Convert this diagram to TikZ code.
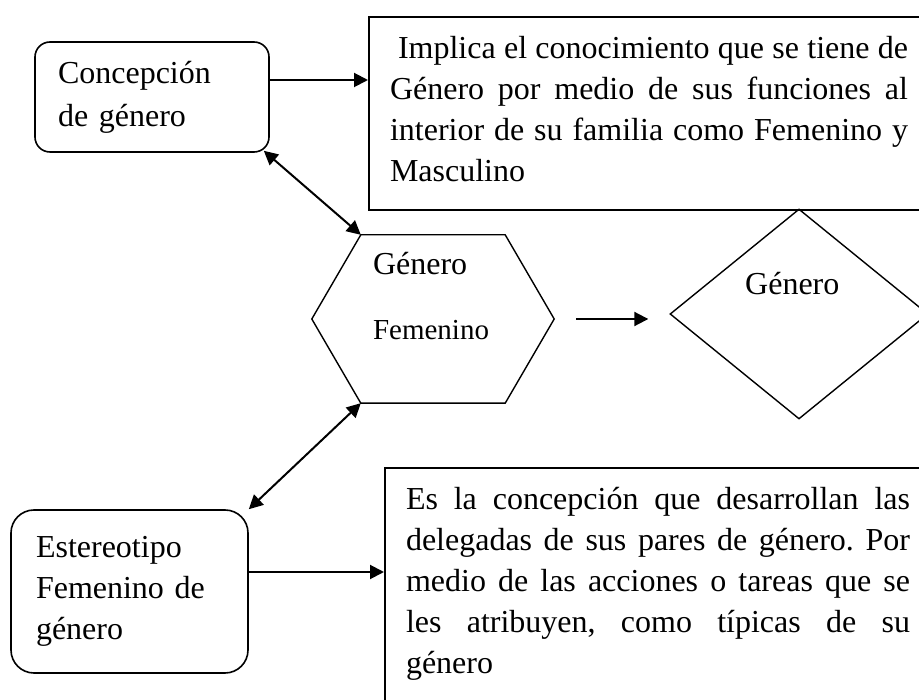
\documentclass[tikz,border=0pt]{standalone}
\usepackage{fontspec}
\setmainfont{Liberation Serif}
\usetikzlibrary{shapes.geometric,arrows.meta,positioning,calc}
\frenchspacing

\begin{document}
\begin{tikzpicture}[
  x=1pt, y=-1pt,
  every node/.style={font=\fontsize{32}{41}\selectfont},
  rbox/.style={rectangle, draw, line width=1.6pt, align=left, inner sep=0pt},
  tbox/.style={rectangle, draw, line width=2pt, align=justify, anchor=north west, inner xsep=21pt, inner ysep=19pt},
  hexa/.style={rectangle, inner sep=0pt, minimum width=242pt, minimum height=168pt, text width=120pt, align=left, text height=22pt, text depth=110pt},
  decision/.style={diamond, draw, line width=1.4pt, inner sep=0pt, minimum width=258pt, minimum height=210pt},
  arrow/.style={->, >={Triangle[length=14pt,width=14pt]}, line width=2pt},
  biarrow/.style={arrow, <->}
]
\clip (0,0) rectangle (919,700);

\node[rbox, rounded corners=15pt, minimum width=234pt, minimum height=110pt, text width=188pt] (cg) at (152,97) {Concepción\\[2pt]de género};
\node[tbox, text width=518pt, text depth=133pt] (impl) at (368,16) {\hspace*{8pt}Implica el conocimiento que se tiene de\linebreak Género por medio de sus funciones al\linebreak interior de su familia como Femenino y\linebreak Masculino};

\node[hexa] (hex) at (433,319) {Género\\[24pt]{\fontsize{29}{41}\selectfont Femenino}};
\draw[line width=1.4pt] (hex.west) -- ([xshift=49pt]hex.north west) coordinate (hexTL)
  -- ([xshift=-49pt]hex.north east) -- (hex.east) -- ([xshift=-49pt]hex.south east)
  -- ([xshift=49pt]hex.south west) coordinate (hexBL) -- cycle;

\node[decision] (gen) at (799,314) {};
\node[anchor=base west, inner sep=0pt] (gtxt) at (745,295) {Género};

\node[rbox, rounded corners=23pt, minimum width=237pt, minimum height=163pt, text width=187pt] (est) at (129.5,591.5) {Estereotipo\\Femenino de\\género};
\node[tbox, text width=504pt, text depth=200pt] (desc) at (384,467) {Es la concepción que desarrollan las\linebreak delegadas de sus pares de género. Por\linebreak medio de las acciones o tareas que se\linebreak les atribuyen, como típicas de su\linebreak género};

\coordinate (a1) at ([yshift=17pt]cg.east);
\coordinate (a2) at ([yshift=19.5pt]est.east);

\draw[arrow] (a1) -- (a1 -| impl.west);
\draw[biarrow] ([xshift=-6pt,yshift=2pt]cg.south east) -- (hexTL);
\draw[arrow, shorten <=22pt, shorten >=21pt] (hex.east) -- (hex.east -| gen.west);
\draw[biarrow] (hexBL) -- (est.north east);
\draw[arrow] (a2) -- (a2 -| desc.west);

\end{tikzpicture}
\end{document}
